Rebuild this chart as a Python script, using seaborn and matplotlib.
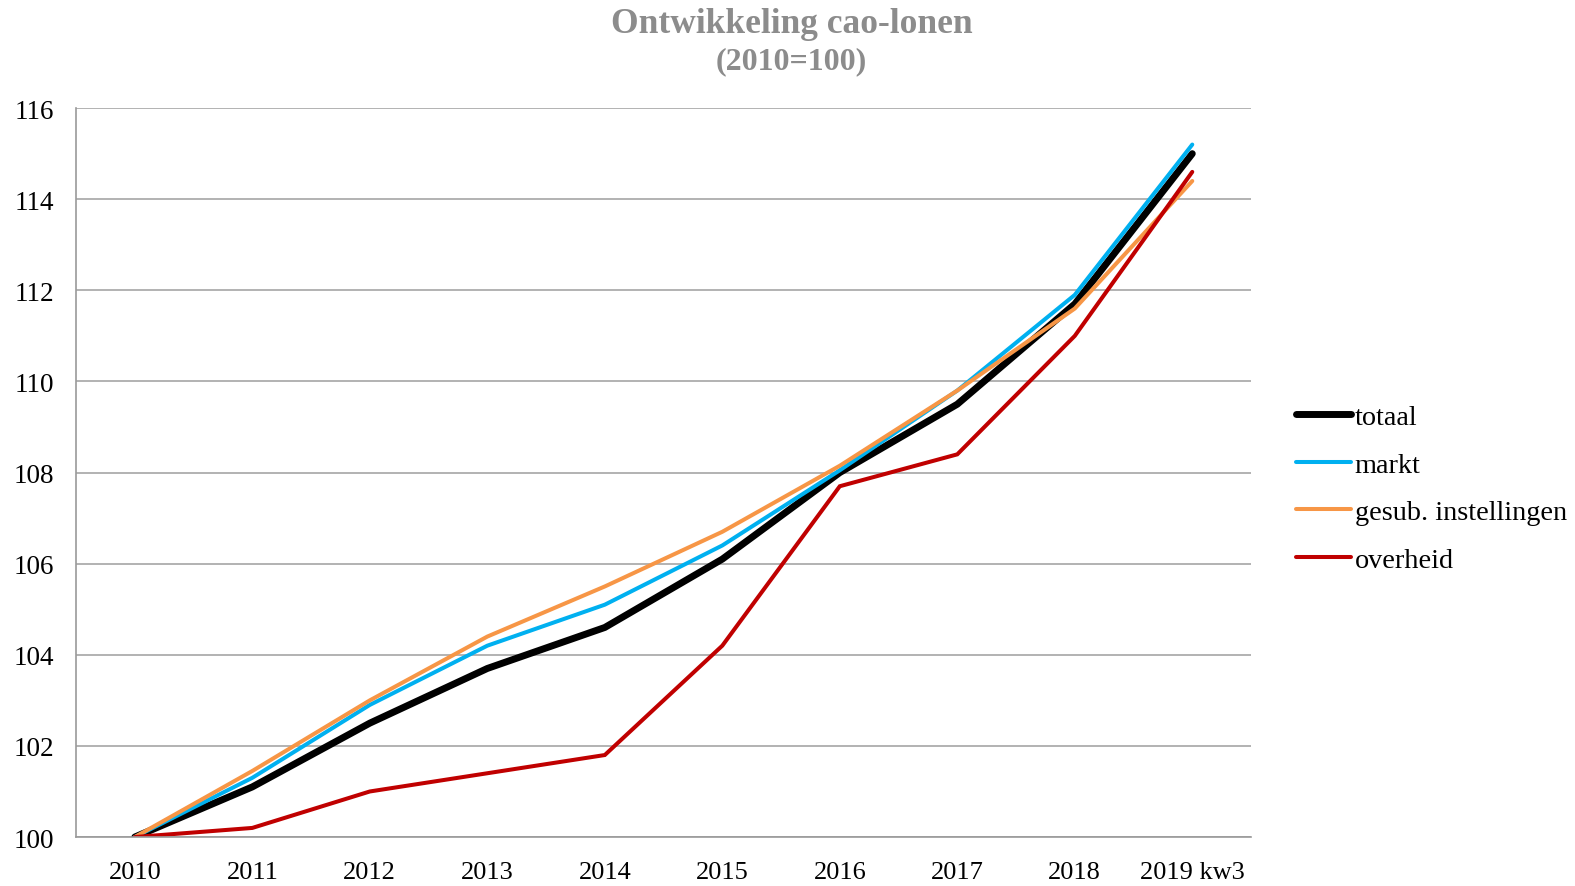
import numpy as np
import pandas as pd
import matplotlib
matplotlib.use("Agg")
import matplotlib.pyplot as plt
import seaborn as sns
from matplotlib.ticker import FixedLocator

categories = ["2010", "2011", "2012", "2013", "2014", "2015", "2016", "2017", "2018", "2019 kw3"]
totaal = [100.0, 101.1, 102.5, 103.7, 104.6, 106.1, 108.0, 109.5, 111.7, 115.0]
markt = [100.0, 101.3, 102.9, 104.2, 105.1, 106.4, 108.05, 109.8, 111.9, 115.2]
gesub = [100.0, 101.45, 103.0, 104.4, 105.5, 106.7, 108.15, 109.8, 111.6, 114.4]
overheid = [100.0, 100.2, 101.0, 101.4, 101.8, 104.2, 107.7, 108.4, 111.0, 114.6]
series_names = ["totaal", "markt", "gesub. instellingen", "overheid"]
yticks = [100, 102, 104, 106, 108, 110, 112, 114, 116]

colors = ["#000000", "#00B0F0", "#F79646", "#C00000"]
widths = [5.0, 2.9, 2.9, 2.9]

sns.set_theme(style="white")
plt.rcParams["font.family"] = ["Liberation Serif", "DejaVu Serif"]

rows = []
for name, vals in zip(series_names, [totaal, markt, gesub, overheid]):
    for i, (c, v) in enumerate(zip(categories, vals)):
        rows.append({"pos": i, "cat": c, "serie": name, "waarde": v})
df = pd.DataFrame(rows)

fig = plt.figure(figsize=(15.75, 8.87), dpi=100)
ax = fig.add_axes([0.0483, 0.0552, 0.7460, 0.8218])

for name, col, lw in zip(series_names, colors, widths):
    sub = df[df["serie"] == name]
    sns.lineplot(data=sub, x="pos", y="waarde", ax=ax, color=col, linewidth=lw,
                 label=name, solid_capstyle="round", solid_joinstyle="miter")

ax.set_xlim(-0.5, len(categories) - 0.5)
ax.set_ylim(100, 116)
ax.set_yticks(yticks)
ax.set_yticklabels([str(t) for t in yticks], fontsize=19.5)
ax.set_xticks(range(len(categories)))
ax.set_xticklabels(categories, fontsize=19)
ax.xaxis.set_minor_locator(FixedLocator(np.arange(-0.5, len(categories), 1.0)))
ax.tick_params(axis="x", which="major", length=0, pad=17, colors="#000000")
ax.tick_params(axis="x", which="minor", length=12, width=1, color="#9A9A9A", direction="out")
ax.tick_params(axis="y", which="major", length=0, pad=16, colors="#000000")
ax.yaxis.grid(True, color="#A6A6A6", linewidth=1.2)
ax.set_axisbelow(True)
ax.set_xlabel("")
ax.set_ylabel("")
for s in ["top", "right"]:
    ax.spines[s].set_visible(False)
for s in ["left", "bottom"]:
    ax.spines[s].set_color("#9A9A9A")
    ax.spines[s].set_linewidth(1.2)

leg = ax.legend(loc="center left", bbox_to_anchor=(1.017, 0.478), frameon=False,
                fontsize=20.3, handlelength=1.95, handletextpad=0.12, labelspacing=0.78)
for t in leg.get_texts():
    t.set_color("#000000")

fig.text(0.5025, 0.972, "Ontwikkeling cao-lonen", ha="center", va="center",
         fontsize=25.5, fontweight="bold", color="#8C8C8C")
fig.text(0.5025, 0.930, "(2010=100)", ha="center", va="center",
         fontsize=23, fontweight="bold", color="#8C8C8C")

fig.savefig("out.png", dpi=100, facecolor="white")
